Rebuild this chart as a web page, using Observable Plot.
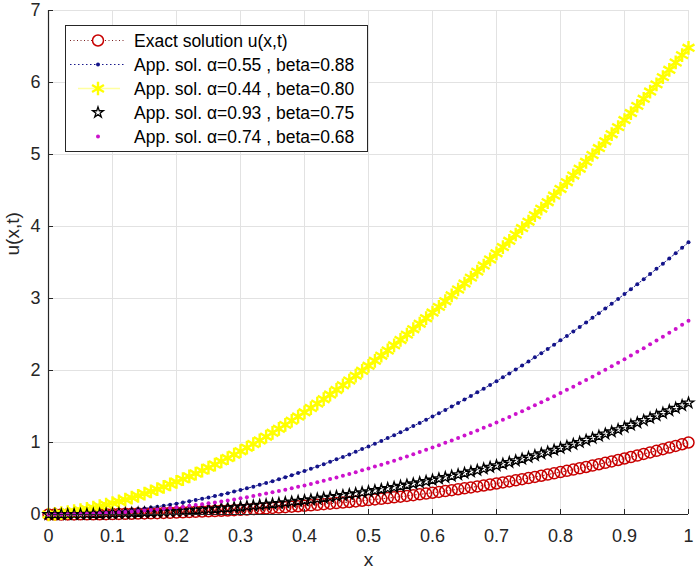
<!DOCTYPE html>
<html><head><meta charset="utf-8">
<script src="https://cdn.jsdelivr.net/npm/d3@7"></script>
<script src="https://cdn.jsdelivr.net/npm/@observablehq/plot@0.6"></script>
<style>
body{margin:0;background:#fff}
#chart{position:relative;width:697px;height:575px}
</style>
</head><body><div id="chart"></div>
<script>
const xValues = [
0,0.01,0.02,0.03,0.04,0.05,0.06,0.07,0.08,0.09,
0.10,0.11,0.12,0.13,0.14,0.15,0.16,0.17,0.18,0.19,
0.20,0.21,0.22,0.23,0.24,0.25,0.26,0.27,0.28,0.29,
0.30,0.31,0.32,0.33,0.34,0.35,0.36,0.37,0.38,0.39,
0.40,0.41,0.42,0.43,0.44,0.45,0.46,0.47,0.48,0.49,
0.50,0.51,0.52,0.53,0.54,0.55,0.56,0.57,0.58,0.59,
0.60,0.61,0.62,0.63,0.64,0.65,0.66,0.67,0.68,0.69,
0.70,0.71,0.72,0.73,0.74,0.75,0.76,0.77,0.78,0.79,
0.80,0.81,0.82,0.83,0.84,0.85,0.86,0.87,0.88,0.89,
0.90,0.91,0.92,0.93,0.94,0.95,0.96,0.97,0.98,0.99,
1.00];

// Exact solution u(x,t)
const exact = [
0,0,0,0.001,0.001,0.002,0.002,0.003,0.004,0.005,
0.006,0.008,0.009,0.011,0.013,0.015,0.017,0.019,0.022,0.024,
0.027,0.030,0.033,0.037,0.040,0.044,0.048,0.052,0.056,0.060,
0.065,0.070,0.075,0.080,0.085,0.091,0.096,0.102,0.109,0.115,
0.122,0.128,0.135,0.143,0.150,0.158,0.166,0.174,0.182,0.191,
0.200,0.209,0.218,0.228,0.238,0.248,0.258,0.269,0.280,0.291,
0.302,0.314,0.326,0.338,0.351,0.363,0.376,0.390,0.403,0.417,
0.431,0.446,0.460,0.475,0.491,0.506,0.522,0.538,0.555,0.572,
0.589,0.606,0.624,0.642,0.660,0.679,0.698,0.718,0.737,0.757,
0.778,0.798,0.819,0.841,0.862,0.884,0.907,0.930,0.953,0.976,
1.000];

// App. sol. alpha=0.55, beta=0.88 (blue dots)
const app1 = [
0,0,0.002,0.003,0.006,0.009,0.014,0.019,0.024,0.031,
0.038,0.046,0.054,0.064,0.074,0.085,0.097,0.109,0.122,0.137,
0.151,0.167,0.183,0.200,0.218,0.236,0.256,0.276,0.296,0.318,
0.340,0.363,0.387,0.412,0.437,0.463,0.490,0.518,0.546,0.575,
0.605,0.635,0.667,0.699,0.732,0.766,0.800,0.835,0.871,0.908,
0.945,0.983,1.022,1.062,1.102,1.144,1.185,1.228,1.272,1.316,
1.361,1.407,1.453,1.500,1.548,1.597,1.647,1.697,1.748,1.800,
1.852,1.906,1.960,2.014,2.070,2.126,2.183,2.241,2.300,2.359,
2.419,2.480,2.542,2.604,2.667,2.731,2.796,2.861,2.927,2.994,
3.062,3.130,3.199,3.269,3.340,3.412,3.484,3.557,3.630,3.705,
3.780];

// App. sol. alpha=0.44, beta=0.80 (yellow asterisks)
const app2 = [
0,0.009,0.020,0.032,0.046,0.061,0.077,0.095,0.115,0.136,
0.158,0.181,0.206,0.233,0.260,0.289,0.320,0.351,0.384,0.419,
0.454,0.491,0.529,0.569,0.609,0.651,0.694,0.739,0.784,0.831,
0.879,0.928,0.978,1.029,1.081,1.135,1.190,1.245,1.302,1.360,
1.419,1.479,1.540,1.602,1.666,1.730,1.795,1.861,1.928,1.996,
2.065,2.135,2.206,2.278,2.350,2.424,2.498,2.574,2.650,2.727,
2.805,2.884,2.963,3.044,3.125,3.207,3.290,3.373,3.457,3.542,
3.628,3.714,3.801,3.889,3.978,4.067,4.157,4.247,4.338,4.430,
4.522,4.615,4.709,4.803,4.898,4.993,5.089,5.185,5.282,5.380,
5.478,5.576,5.675,5.774,5.874,5.974,6.075,6.176,6.278,6.380,
6.482];

// App. sol. alpha=0.93, beta=0.75 (black pentagrams)
const app3 = [
0,0,0,0.001,0.002,0.003,0.004,0.005,0.007,0.008,
0.011,0.013,0.015,0.018,0.021,0.024,0.028,0.032,0.036,0.040,
0.044,0.049,0.054,0.060,0.065,0.071,0.077,0.084,0.090,0.098,
0.105,0.112,0.120,0.129,0.137,0.146,0.155,0.165,0.175,0.185,
0.195,0.206,0.217,0.229,0.240,0.253,0.265,0.278,0.291,0.305,
0.319,0.333,0.348,0.363,0.378,0.394,0.410,0.427,0.444,0.461,
0.479,0.497,0.516,0.534,0.554,0.574,0.594,0.614,0.635,0.657,
0.679,0.701,0.724,0.747,0.770,0.795,0.819,0.844,0.869,0.895,
0.922,0.948,0.976,1.003,1.032,1.060,1.089,1.119,1.149,1.180,
1.211,1.243,1.275,1.307,1.340,1.374,1.408,1.443,1.478,1.514,
1.550];

// App. sol. alpha=0.74, beta=0.68 (magenta dots)
const app4 = [
0,0,0.001,0.002,0.004,0.006,0.009,0.012,0.016,0.020,
0.024,0.030,0.035,0.041,0.048,0.055,0.063,0.071,0.080,0.089,
0.099,0.109,0.120,0.131,0.143,0.155,0.168,0.182,0.196,0.210,
0.225,0.241,0.257,0.273,0.290,0.308,0.326,0.345,0.364,0.384,
0.404,0.425,0.447,0.469,0.492,0.515,0.538,0.563,0.587,0.613,
0.639,0.665,0.692,0.720,0.748,0.777,0.806,0.836,0.867,0.898,
0.930,0.962,0.995,1.028,1.062,1.097,1.132,1.168,1.204,1.241,
1.278,1.317,1.355,1.395,1.435,1.475,1.516,1.558,1.600,1.643,
1.687,1.731,1.776,1.822,1.868,1.914,1.962,2.010,2.058,2.107,
2.157,2.207,2.259,2.310,2.363,2.416,2.469,2.523,2.578,2.634,
2.690];

const xTicks = [0,0.1,0.2,0.3,0.4,0.5,0.6,0.7,0.8,0.9,1];
const yTicks = [0,1,2,3,4,5,6,7];
const legendLabels = [
  "Exact solution u(x,t)",
  "App. sol. \u03b1=0.55 , beta=0.88",
  "App. sol. \u03b1=0.44 , beta=0.80",
  "App. sol. \u03b1=0.93 , beta=0.75",
  "App. sol. \u03b1=0.74 , beta=0.68"
];

const data = xValues.map((x, i) => ({x, exact: exact[i], a1: app1[i], a2: app2[i], a3: app3[i], a4: app4[i]}));

const W = 697, H = 575, mL = 48, mR = 9, mT = 10, mB = 61;
const fw = W - mL - mR, fh = H - mT - mB;
const ink = "#262626";
const font = "'Liberation Sans', Arial, Helvetica, sans-serif";
const starSize = 36, astR = 6.5;

const chart = Plot.plot({
  width: W, height: H,
  marginLeft: mL, marginRight: mR, marginTop: mT, marginBottom: mB,
  style: {fontFamily: font, fontSize: "18px", color: ink, background: "#fff", overflow: "visible"},
  x: {domain: [0, 1]},
  y: {domain: [0, 7]},
  marks: [
    Plot.ruleX(xTicks, {stroke: "#e2e2e2", strokeWidth: 1}),
    Plot.ruleY(yTicks, {stroke: "#e2e2e2", strokeWidth: 1}),
    // exact
    Plot.line(data, {x: "x", y: "exact", stroke: "#a01818", strokeWidth: 1, strokeDasharray: "1,2.5"}),
    Plot.dot(data, {x: "x", y: "exact", r: 5.5, stroke: "#c80000", strokeWidth: 1.5, fill: "none"}),
    // blue
    Plot.line(data, {x: "x", y: "a1", stroke: "#1a1a8c", strokeWidth: 1, strokeDasharray: "1.5,2"}),
    Plot.dot(data, {x: "x", y: "a1", r: 2, fill: "#14148a", stroke: "none"}),
    // yellow
    Plot.line(data, {x: "x", y: "a2", stroke: "#ffff00", strokeWidth: 1.2}),
    Plot.dot(data, {x: "x", y: "a2", symbol: "asterisk", r: astR, stroke: "#ffff00", strokeWidth: 2.4}),
    // stars
    Plot.dot(data, {x: "x", y: "a3", symbol: "star", r: Math.sqrt(starSize / Math.PI), stroke: "#000", fill: "none", strokeWidth: 1.3}),
    // magenta
    Plot.dot(data, {x: "x", y: "a4", r: 2, fill: "#cc12cc", stroke: "none"}),
    // axis lines and inward ticks
    Plot.ruleX([0], {stroke: ink, strokeWidth: 1.2}),
    Plot.ruleY([0], {stroke: ink, strokeWidth: 1.2}),
    Plot.ruleX(xTicks, {stroke: ink, insetTop: fh - 5}),
    Plot.ruleY(yTicks, {stroke: ink, insetRight: fw - 5}),
    Plot.axisX({ticks: xTicks, tickSize: 0, tickPadding: 15, tickFormat: d => String(d), label: null, fontSize: 18}),
    Plot.axisY({ticks: yTicks, tickSize: 0, tickPadding: 8, tickFormat: d => String(d), label: null, fontSize: 18}),
    Plot.text(["x"], {text: d => d, frameAnchor: "bottom", dy: 51, fontSize: 19, fill: ink}),
    Plot.text(["u(x,t)"], {text: d => d, frameAnchor: "left", dx: -36, dy: -7, rotate: -90, fontSize: 19, fill: ink})
  ]
});

document.getElementById("chart").appendChild(chart);

// Legend (inside the axes, top-left)
const svg = d3.select(chart);
const lg = svg.append("g").attr("font-family", font).attr("font-size", 17.5).attr("fill", "#000").attr("text-anchor", "start");
lg.append("rect").attr("x", 65.5).attr("y", 25.5).attr("width", 302).attr("height", 126)
  .attr("fill", "#fff").attr("stroke", ink).attr("stroke-width", 1);
const rowY = i => 40.5 + 24 * i;
const sx0 = 70, sx1 = 126, mx = 98, tx = 134;
// row 0: exact
lg.append("line").attr("x1", sx0).attr("x2", sx1).attr("y1", rowY(0)).attr("y2", rowY(0))
  .attr("stroke", "#7a2020").attr("stroke-dasharray", "1,2.5");
lg.append("circle").attr("cx", mx).attr("cy", rowY(0)).attr("r", 5.5).attr("fill", "#fff").attr("stroke", "#c80000").attr("stroke-width", 1.5);
// row 1: blue
lg.append("line").attr("x1", sx0).attr("x2", sx1).attr("y1", rowY(1)).attr("y2", rowY(1))
  .attr("stroke", "#1a1a8c").attr("stroke-dasharray", "1.5,2.5");
lg.append("circle").attr("cx", mx).attr("cy", rowY(1)).attr("r", 2).attr("fill", "#14148a");
// row 2: yellow
lg.append("line").attr("x1", sx0 + 8).attr("x2", sx1 - 6).attr("y1", rowY(2)).attr("y2", rowY(2))
  .attr("stroke", "#ffffa0").attr("stroke-width", 1.5);
lg.append("path").attr("transform", `translate(${mx},${rowY(2)})`)
  .attr("d", d3.symbol(d3.symbolAsterisk, Math.PI * astR * astR)()).attr("stroke", "#ffff00").attr("stroke-width", 2.4).attr("fill", "none");
// row 3: star
lg.append("path").attr("transform", `translate(${mx},${rowY(3)})`)
  .attr("d", d3.symbol(d3.symbolStar, starSize)()).attr("stroke", "#000").attr("stroke-width", 1.3).attr("fill", "none");
// row 4: magenta dot
lg.append("circle").attr("cx", mx).attr("cy", rowY(4)).attr("r", 2).attr("fill", "#cc12cc");
legendLabels.forEach((t, i) => {
  lg.append("text").attr("x", tx).attr("y", rowY(i)).attr("dy", "0.35em").text(t);
});
</script>
</body></html>
